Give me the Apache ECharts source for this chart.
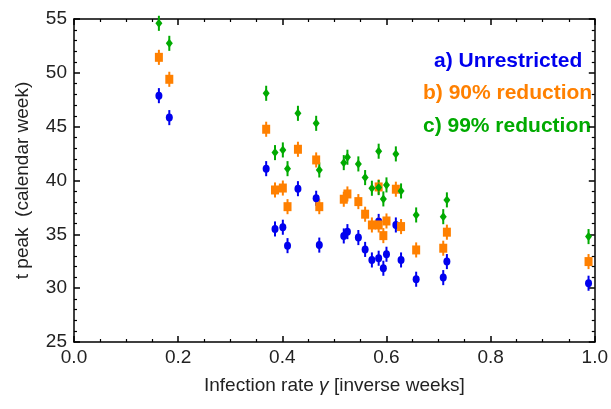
<!DOCTYPE html>
<html>
<head>
<meta charset="utf-8">
<script src="https://cdn.jsdelivr.net/npm/echarts@6/dist/echarts.min.js"></script>
<style>
html,body{margin:0;padding:0;background:#fff;}
#main{width:611px;height:409px;}
</style>
</head>
<body>
<div id="main"></div>
<script>
// Data
const gamma = [0.163,0.183,0.369,0.386,0.401,0.410,0.430,0.465,0.471,0.518,0.525,0.546,0.559,0.572,0.585,0.585,0.594,0.600,0.618,0.628,0.657,0.709,0.716,0.988];
const unrestricted = [47.88,45.84,41.1,35.5,35.66,33.95,39.24,38.35,34.0,34.85,35.25,34.7,33.6,32.62,32.78,36.2,31.85,33.15,35.87,32.62,30.83,30.98,32.47,30.46];
const reduction90 = [51.44,49.4,44.76,39.12,39.3,37.57,42.9,41.91,37.57,38.26,38.75,38.04,36.87,35.87,35.87,39.4,34.88,36.24,39.19,35.72,33.55,33.71,35.2,32.47];
const reduction99 = [54.6,52.74,48.1,42.59,42.84,41.1,46.24,45.31,40.98,41.66,42.16,41.54,40.27,39.28,39.34,42.72,38.29,39.59,42.47,39.03,36.8,36.64,38.2,34.79];
const errHalf = 0.7;
const seriesNames = ['a) Unrestricted','b) 90% reduction','c) 99% reduction'];
const xTicks = ['0.0','0.2','0.4','0.6','0.8','1.0'];
const yTicks = ['25','30','35','40','45','50','55'];

const colors = ['#0000ee','#ff8000','#00aa00'];
const symbols = ['circle','rect','diamond'];
const symbolSizes = [[7,8],[8,9],[7,9]];
const allVals = [unrestricted, reduction90, reduction99];

const FONT = 'Liberation Sans, Arial, sans-serif';
const chart = echarts.init(document.getElementById('main'), null, {renderer:'canvas'});

function pairs(vals){ return gamma.map((g,i)=>[g, vals[i]]); }

const axisCommon = {
  min: 0, max: 1, interval: 0.2,
  axisLine:{show:true, onZero:false, lineStyle:{color:'#000', width:1.5}},
  axisTick:{show:true, inside:true, length:6, lineStyle:{color:'#000', width:1.5}},
  minorTick:{show:true, splitNumber:4, length:3, lineStyle:{color:'#000', width:1.2}},
  splitLine:{show:false}
};
const yCommon = {
  min: 25, max: 55, interval: 5,
  axisLine:{show:true, onZero:false, lineStyle:{color:'#000', width:1.5}},
  axisTick:{show:true, inside:true, length:6, lineStyle:{color:'#000', width:1.5}},
  minorTick:{show:true, splitNumber:5, length:3, lineStyle:{color:'#000', width:1.2}},
  splitLine:{show:false}
};

const series = [];
allVals.forEach((vals, k) => {
  series.push({
    type:'custom',
    name: seriesNames[k] + ' err',
    xAxisIndex:0, yAxisIndex:0,
    data: pairs(vals),
    z: 2,
    silent:true,
    renderItem: function(params, api){
      const x = api.value(0), y = api.value(1);
      const p1 = api.coord([x, y - errHalf]);
      const p2 = api.coord([x, y + errHalf]);
      return {type:'line', shape:{x1:p1[0], y1:p1[1], x2:p2[0], y2:p2[1]},
              style:{stroke:colors[k], lineWidth:2}};
    }
  });
  series.push({
    type:'scatter',
    name: seriesNames[k],
    xAxisIndex:0, yAxisIndex:0,
    data: pairs(vals),
    symbol: symbols[k],
    symbolSize: symbolSizes[k],
    itemStyle:{color:colors[k], opacity:1},
    z: 3,
    silent:true
  });
});

chart.setOption({
  animation:false,
  backgroundColor:'#fff',
  grid:{left:74, right:13, top:19, bottom:67, containLabel:false},
  xAxis:[
    Object.assign({}, axisCommon, {
      type:'value', position:'bottom',
      axisLabel:{show:true, margin:6, color:'#222', fontSize:19, fontFamily:FONT,
        formatter:(v)=>xTicks[Math.round(v/0.2)]},
      name:'{n|Infection rate }{g|γ}{n| [inverse weeks]}',
      nameLocation:'middle', nameGap:34,
      nameTextStyle:{rich:{n:{fontSize:19, fontFamily:FONT, color:'#222'}, g:{fontSize:19, fontFamily:FONT, fontStyle:'italic', color:'#222'}}}
    }),
    Object.assign({}, axisCommon, {
      type:'value', position:'top', axisLabel:{show:false}
    })
  ],
  yAxis:[
    Object.assign({}, yCommon, {
      type:'value', position:'left',
      axisLabel:{show:true, margin:7, color:'#222', fontSize:19, fontFamily:FONT,
        formatter:(v)=>yTicks[Math.round((v-25)/5)]},
      name:'t peak  (calendar week)', nameLocation:'middle', nameGap:42, nameRotate:90,
      nameTextStyle:{fontSize:19, fontFamily:FONT, color:'#222'}
    }),
    Object.assign({}, yCommon, {
      type:'value', position:'right', axisLabel:{show:false}
    })
  ],
  graphic:[
    {type:'text', left:434, top:51, style:{text:seriesNames[0], fill:colors[0], font:'bold 21px '+FONT}},
    {type:'text', left:423, top:83, style:{text:seriesNames[1], fill:colors[1], font:'bold 21px '+FONT}},
    {type:'text', left:423, top:116, style:{text:seriesNames[2], fill:colors[2], font:'bold 21px '+FONT}}
  ],
  series: series
});
</script>
</body>
</html>
